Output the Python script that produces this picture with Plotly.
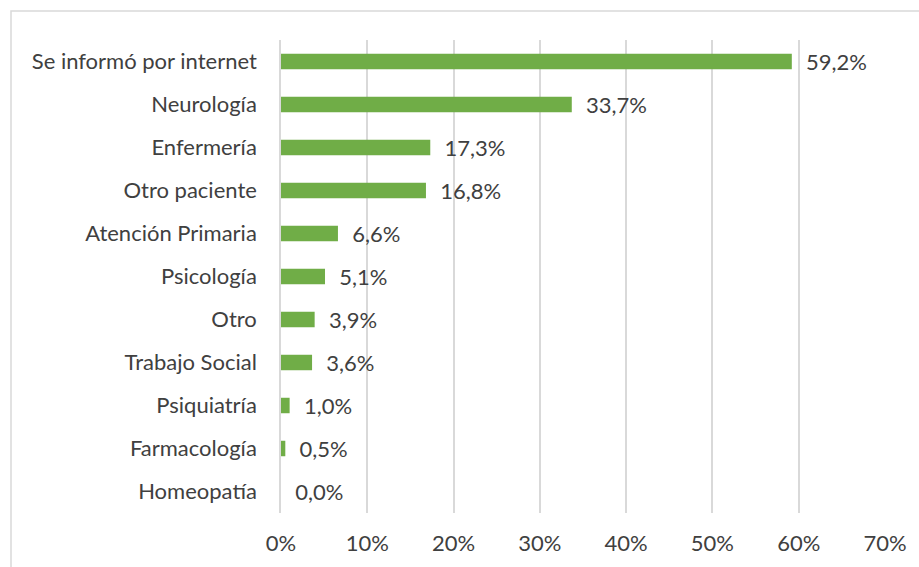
import plotly.graph_objects as go

categories = ["Se informó por internet", "Neurología", "Enfermería", "Otro paciente",
              "Atención Primaria", "Psicología", "Otro", "Trabajo Social",
              "Psiquiatría", "Farmacología", "Homeopatía"]
values = [59.2, 33.7, 17.3, 16.8, 6.6, 5.1, 3.9, 3.6, 1.0, 0.5, 0.0]
labels = [f"{v:.1f}%".replace(".", ",") for v in values]
x_ticks = [0, 10, 20, 30, 40, 50, 60, 70]
x_tick_text = [f"{t}%" for t in x_ticks]

FONT = "Lato"
FS = 22
TXT = "#404040"

fig = go.Figure(go.Bar(
    y=categories, x=values, orientation="h",
    marker=dict(color="#70AD47", line=dict(width=0)),
    text=["\u00a0\u00a0" + l for l in labels],
    textposition="outside", cliponaxis=False, constraintext="none",
    textfont=dict(family=FONT, size=FS, color=TXT),
    width=0.36,
))

fig.update_layout(
    width=919, height=567,
    margin=dict(l=281, r=34, t=40, b=54),
    paper_bgcolor="white", plot_bgcolor="white",
    showlegend=False,
    font=dict(family=FONT, size=FS, color=TXT),
    xaxis=dict(range=[0, 70], tickvals=x_ticks, ticktext=x_tick_text,
               showgrid=True, gridcolor="#d9d9d9", gridwidth=1.5,
               zeroline=False, showline=False, ticks="", ticklabelstandoff=15,
               tickfont=dict(family=FONT, size=FS, color=TXT)),
    yaxis=dict(autorange="reversed", showgrid=False, zeroline=False,
               showline=True, linecolor="#d9d9d9", linewidth=1.5,
               ticks="", ticklabelstandoff=18,
               tickfont=dict(family=FONT, size=FS, color=TXT)),
    shapes=[dict(type="rect", xref="paper", yref="paper",
                 x0=-270/604, x1=1.2, y0=-0.3, y1=1 + 29/473,
                 line=dict(color="#d9d9d9", width=1.5), fillcolor="rgba(0,0,0,0)",
                 layer="below")],
)

fig.write_html("out.html")
